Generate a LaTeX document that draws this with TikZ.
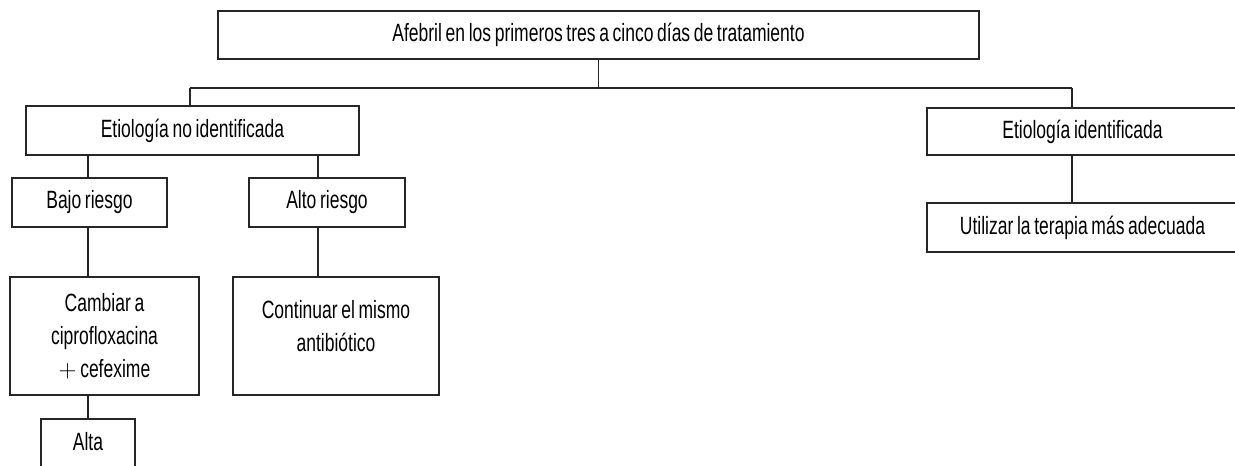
\documentclass[tikz,border=0pt]{standalone}
\usepackage{fontspec}
\setmainfont[FakeStretch=0.7,WordSpace=0.75]{Liberation Sans}
\begin{document}
\begin{tikzpicture}[x=1pt,y=-1pt,
  box/.style={draw=black!85,line width=1.3pt,rectangle,inner sep=0pt,outer sep=0pt,align=center,font=\fontsize{25}{33}\selectfont},
  txt/.style={inner sep=0pt,align=center,font=\fontsize{25}{33}\selectfont},
  line/.style={draw=black!85,line width=1.3pt}]
\useasboundingbox (0,0) rectangle (1235,466);
\clip (0,0) rectangle (1235,466);
% nodes
\node[box,minimum width=761pt,minimum height=48pt] (top) at (598.5,35) {Afebril en los primeros tres a cinco días de tratamiento};
\node[box,minimum width=333pt,minimum height=49pt] (eni) at (192.5,130.5) {Etiología no identificada};
\node[box,minimum width=311pt,minimum height=47pt] (ei) at (1082.5,131.5) {Etiología identificada};
\node[box,minimum width=155pt,minimum height=49pt] (bajo) at (89.5,202.5) {Bajo riesgo};
\node[box,minimum width=156pt,minimum height=49pt] (alto) at (327,202.5) {Alto riesgo};
\node[box,minimum width=311pt,minimum height=49pt] (util) at (1082.5,227.5) {Utilizar la terapia más adecuada};
\node[box,minimum width=189pt,minimum height=118pt] (camb) at (104.5,336) {Cambiar a\\ciprofloxacina\\$+$ cefexime};
\node[box,minimum width=206pt,minimum height=118pt] (cont) at (336,336) {};
\node[txt] (conttxt) at (336,326) {Continuar el mismo\\antibiótico};
\node[box,minimum width=94pt,minimum height=61pt] (alta) at (88,449.5) {};
\node[txt] (altatxt) at (88,442) {Alta};
% connector coordinates
\coordinate (c1) at (190,88);
\coordinate (c2) at (1072,88);
\coordinate (xa) at (88,0);
\coordinate (xb) at (318,0);
% connectors
\draw[line] (top.south) -- (top.south |- c1);
\draw[line] (c1) -- (c2);
\draw[line] (c1) -- (c1 |- eni.north);
\draw[line] (c2) -- (c2 |- ei.north);
\draw[line] (xa |- eni.south) -- (xa |- bajo.north);
\draw[line] (xb |- eni.south) -- (xb |- alto.north);
\draw[line] (xa |- bajo.south) -- (xa |- camb.north);
\draw[line] (xb |- alto.south) -- (xb |- cont.north);
\draw[line] (xa |- camb.south) -- (xa |- alta.north);
\draw[line] (c2 |- ei.south) -- (c2 |- util.north);
\end{tikzpicture}
\end{document}
